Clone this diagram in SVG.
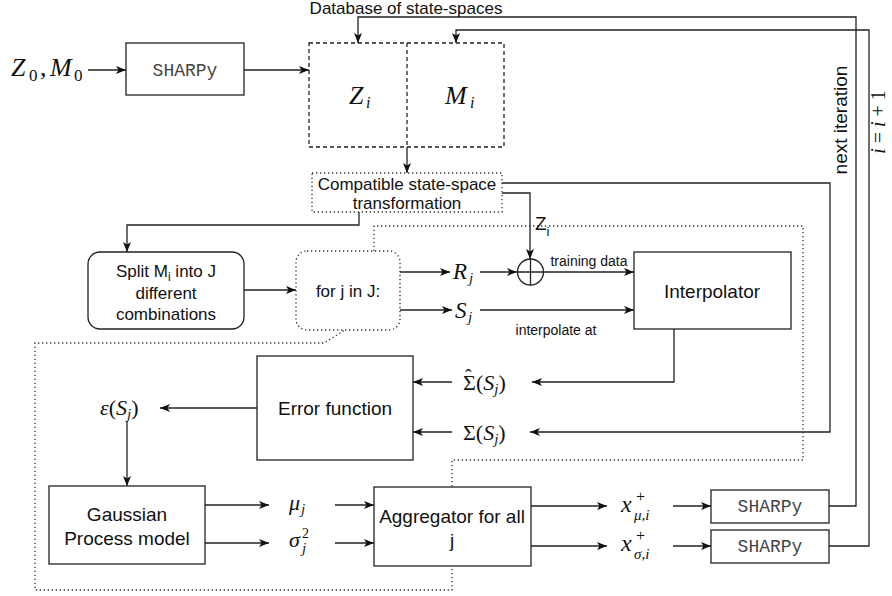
<svg xmlns="http://www.w3.org/2000/svg" width="892" height="596" viewBox="0 0 892 596">
<style>
.box{fill:#fff;stroke:#222;stroke-width:1.3}
.dash{fill:none;stroke:#222;stroke-width:1.3;stroke-dasharray:4 3}
.dot{fill:none;stroke:#333;stroke-width:1.3;stroke-dasharray:1.3 2.7}
.ln{fill:none;stroke:#222;stroke-width:1.3}
.ar{fill:none;stroke:#222;stroke-width:1.3;marker-end:url(#a)}
.t{font-family:"Liberation Sans",Arial,sans-serif;fill:#111}
.t19{font-size:19px}
.t17{font-size:17px}
.t14{font-size:14px}
.mono{font-family:"Liberation Mono","Courier New",monospace;font-size:18px;fill:#444}
.m{font-family:"Liberation Serif","Times New Roman",serif;font-style:normal;fill:#111}
.mi{font-family:"Liberation Serif","Times New Roman",serif;font-style:italic;fill:#111}
</style>
<defs>
<marker id="a" viewBox="0 0 10 8" refX="10" refY="4" markerWidth="10" markerHeight="8" orient="auto" markerUnits="userSpaceOnUse">
<path d="M0,0 L10,4 L0,8 L2.5,4 z" fill="#111"/>
</marker>
</defs>

<!-- dotted loop region -->
<path id="loop-region" class="dot" d="M374,251 V226 H803 V460 H452 V590 H35 V343 H324 L345,330"/>

<g id="connectors">
<path class="ar" d="M88,70 H126"/>
<path class="ar" d="M244,70 H309"/>
<path class="ar" d="M829,506 H856 V17 H358 V43"/>
<path class="ar" d="M829,546 H869 V30 H456 V43"/>
<path class="ar" d="M407,147 V173"/>
<path class="ar" d="M359,212 V225 H127 V252"/>
<path class="ar" d="M502,183 H830 V432 H530"/>
<path class="ar" d="M502,193 H530 V259"/>
<path class="ar" d="M244,290 H296"/>
<path class="ar" d="M400,272 H450"/>
<path class="ar" d="M480,272 H517"/>
<path class="ar" d="M544,272 H634"/>
<path class="ar" d="M400,310 H452"/>
<path class="ar" d="M480,310 H634"/>
<path class="ar" d="M674,329 V382 H532"/>
<path class="ar" d="M452,382 H413"/>
<path class="ar" d="M452,432 H413"/>
<path class="ar" d="M257,408 H160"/>
<path class="ar" d="M127,421 V486"/>
<path class="ar" d="M205,505 H269"/>
<path class="ar" d="M205,543 H269"/>
<path class="ar" d="M335,505 H374"/>
<path class="ar" d="M335,543 H374"/>
<path class="ar" d="M530,506 H607"/>
<path class="ar" d="M530,546 H607"/>
<path class="ar" d="M673,506 H711"/>
<path class="ar" d="M673,546 H711"/>
<text class="t t14" x="589" y="266" text-anchor="middle">training data</text>
<text class="t t14" x="556" y="335" text-anchor="middle">interpolate at</text>
<text class="t" x="535" y="230" font-size="19">Z<tspan font-size="13" dy="6">i</tspan></text>
<text class="t t19" transform="translate(847,120) rotate(-90)" text-anchor="middle">next iteration</text>
<text class="m" font-size="20" transform="translate(885,122) rotate(-90)" text-anchor="middle"><tspan class="mi">i</tspan> = <tspan class="mi">i</tspan> + 1</text>
</g>

<g id="input-label">
<text class="mi" font-size="26" x="11" y="76">Z<tspan class="m" font-size="17" x="29" y="81">0</tspan><tspan class="m" x="40" y="76">,</tspan><tspan x="50" y="76">M</tspan><tspan class="m" font-size="17" x="74" y="81">0</tspan></text>
</g>

<g id="sharpy-0">
<rect class="box" x="126" y="43" width="118" height="52"/>
<text class="mono" x="185" y="76" text-anchor="middle">SHARPy</text>
</g>

<g id="database">
<text class="t t17" x="406" y="14" text-anchor="middle">Database of state-spaces</text>
<rect class="dash" x="309" y="43" width="195" height="104"/>
<line class="dash" x1="407" y1="43" x2="407" y2="147"/>
<text class="mi" font-size="26" x="349" y="104">Z<tspan font-size="16" x="366" y="108">i</tspan></text>
<text class="mi" font-size="26" x="445" y="104">M<tspan font-size="16" x="470" y="108">i</tspan></text>
</g>

<g id="compatible">
<rect class="dot" x="312" y="173" width="190" height="39"/>
<text class="t t17" x="407" y="190" text-anchor="middle">Compatible state-space</text>
<text class="t t17" x="407" y="209" text-anchor="middle">transformation</text>
</g>

<g id="split">
<rect class="box" x="88" y="252" width="156" height="77" rx="12"/>
<text class="t t17" x="166" y="277" text-anchor="middle">Split M<tspan font-size="12" dy="4">i</tspan><tspan dy="-4"> into J</tspan></text>
<text class="t t17" x="166" y="299" text-anchor="middle">different</text>
<text class="t t17" x="166" y="320" text-anchor="middle">combinations</text>
</g>

<g id="for-j">
<rect class="dot" x="296" y="251" width="104" height="79" rx="11"/>
<text class="t t17" x="348" y="297" text-anchor="middle">for j in J:</text>
</g>

<g id="r-j"><text class="mi" font-size="23" x="453" y="279">R<tspan font-size="15" x="469" y="283">j</tspan></text></g>
<g id="s-j"><text class="mi" font-size="23" x="455" y="318">S<tspan font-size="15" x="468" y="322">j</tspan></text></g>

<g id="sum-node">
<circle class="box" cx="530.5" cy="272" r="13"/>
<path class="ln" d="M517.5,272 H543.5 M530.5,259 V285"/>
</g>

<g id="interpolator">
<rect class="box" x="634" y="252" width="157" height="77"/>
<text class="t t19" x="712" y="298" text-anchor="middle">Interpolator</text>
</g>

<g id="sigma-hat">
<text class="m" font-size="22" x="463" y="390">Σ<tspan font-size="20" x="465" y="384">ˆ</tspan><tspan x="476" y="390">(</tspan><tspan class="mi">S</tspan><tspan class="mi" font-size="15" dy="4">j</tspan><tspan dy="-4">)</tspan></text>
</g>
<g id="sigma">
<text class="m" font-size="22" x="463" y="440">Σ(<tspan class="mi">S</tspan><tspan class="mi" font-size="15" dy="4">j</tspan><tspan dy="-4">)</tspan></text>
</g>

<g id="error-function">
<rect class="box" x="257" y="356" width="156" height="104"/>
<text class="t t19" x="335" y="415" text-anchor="middle">Error function</text>
</g>

<g id="epsilon">
<text class="m" font-size="22" x="100" y="415"><tspan class="mi">ε</tspan>(<tspan class="mi">S</tspan><tspan class="mi" font-size="15" dy="4">j</tspan><tspan dy="-4">)</tspan></text>
</g>

<g id="gaussian-process">
<rect class="box" x="49" y="486" width="156" height="78"/>
<text class="t t19" x="127" y="521" text-anchor="middle">Gaussian</text>
<text class="t t19" x="127" y="545" text-anchor="middle">Process model</text>
</g>

<g id="mu-j"><text class="mi" font-size="22" x="289" y="510">μ<tspan font-size="15" x="301" y="514">j</tspan></text></g>
<g id="sigma-j"><text class="mi" font-size="22" x="289" y="547">σ<tspan class="m" font-size="14" x="302" y="538">2</tspan><tspan font-size="15" x="302" y="553">j</tspan></text></g>

<g id="aggregator">
<rect class="box" x="374" y="487" width="157" height="79"/>
<text class="t t19" x="452" y="523" text-anchor="middle">Aggregator for all</text>
<text class="t t19" x="452" y="547" text-anchor="middle">j</text>
</g>

<g id="x-mu"><text class="mi" font-size="24" x="621" y="512">x<tspan class="m" font-size="16" x="636" y="502">+</tspan><tspan font-size="15" x="634" y="520">μ,i</tspan></text></g>
<g id="x-sigma"><text class="mi" font-size="24" x="621" y="551">x<tspan class="m" font-size="16" x="636" y="541">+</tspan><tspan font-size="15" x="634" y="559">σ,i</tspan></text></g>

<g id="sharpy-1">
<rect class="box" x="711" y="490" width="118" height="33"/>
<text class="mono" x="770" y="512" text-anchor="middle">SHARPy</text>
</g>
<g id="sharpy-2">
<rect class="box" x="711" y="530" width="118" height="33"/>
<text class="mono" x="770" y="552" text-anchor="middle">SHARPy</text>
</g>
</svg>
